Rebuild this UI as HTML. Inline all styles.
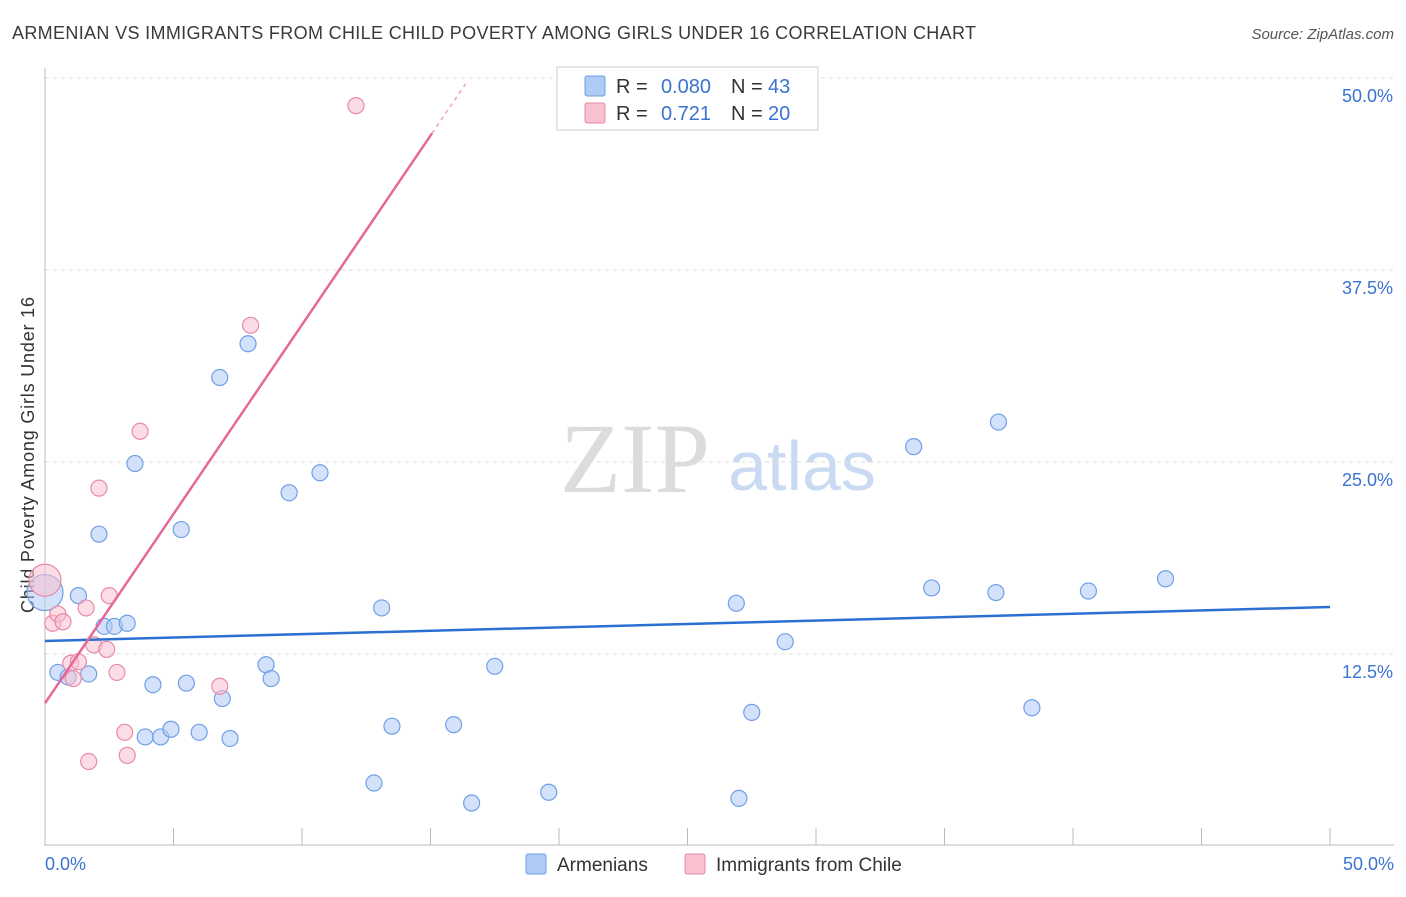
<!DOCTYPE html>
<html><head><meta charset="utf-8"><style>
body{margin:0;background:#fff;font-family:"Liberation Sans",sans-serif;}
svg text{font-family:"Liberation Sans",sans-serif;}
</style></head><body>
<svg id="c" width="1406" height="892">
<text x="12" y="39" font-size="18" fill="#3a3a3a" textLength="964">ARMENIAN VS IMMIGRANTS FROM CHILE CHILD POVERTY AMONG GIRLS UNDER 16 CORRELATION CHART</text>
<text x="1394" y="39" font-size="15" fill="#555" font-style="italic" text-anchor="end">Source: ZipAtlas.com</text>
<text x="635" y="492" font-size="100" fill="#dcdcdc" style="font-family:'Liberation Serif',serif" text-anchor="middle">ZIP</text>
<text x="802" y="490" font-size="70" fill="#c9daf2" text-anchor="middle">atlas</text>
<text transform="translate(34,455) rotate(-90)" font-size="18" fill="#333" text-anchor="middle" textLength="316">Child Poverty Among Girls Under 16</text>
<g id="grid"></g><g id="marks"></g>
<g>
<rect x="557" y="67" width="261" height="63" fill="#fff" stroke="#ccc"/>
<rect x="585" y="76" width="20" height="20" rx="2" fill="#aecbf5" stroke="#6fa0e6"/>
<rect x="585" y="103" width="20" height="20" rx="2" fill="#f9c0d0" stroke="#e98aa8"/>
<text x="616" y="93" font-size="20" fill="#333">R =</text>
<text x="711" y="93" font-size="20" fill="#3a73d0" text-anchor="end">0.080</text>
<text x="731" y="93" font-size="20" fill="#333">N =</text>
<text x="768" y="93" font-size="20" fill="#3a73d0">43</text>
<text x="616" y="120" font-size="20" fill="#333">R =</text>
<text x="711" y="120" font-size="20" fill="#3a73d0" text-anchor="end">0.721</text>
<text x="731" y="120" font-size="20" fill="#333">N =</text>
<text x="768" y="120" font-size="20" fill="#3a73d0">20</text>
</g>
<g>
<rect x="526" y="854" width="20" height="20" rx="2" fill="#aecbf5" stroke="#6fa0e6"/>
<text x="557" y="871" font-size="19" fill="#333">Armenians</text>
<rect x="685" y="854" width="20" height="20" rx="2" fill="#f9c0d0" stroke="#e98aa8"/>
<text x="716" y="871" font-size="19" fill="#333">Immigrants from Chile</text>
</g>
</svg>
<script>
const yTicks=[12.5,25,37.5,50];
const yTickLabels=["12.5%","25.0%","37.5%","50.0%"];
const xTickLabels=["0.0%","50.0%"];
const blueX=[0,0.5,0.9,1.7,1.3,2.1,2.3,2.7,3.2,3.5,3.9,4.2,4.5,4.9,5.3,5.5,6.0,6.8,6.9,7.2,7.9,8.6,8.8,9.5,10.7,12.8,13.1,13.5,15.9,16.6,17.5,19.6,26.9,27.0,27.5,28.8,33.8,34.5,37.0,37.1,38.4,40.6,43.6];
const blueY=[16.5,11.3,11.0,11.2,16.3,20.3,14.3,14.3,14.5,24.9,7.1,10.5,7.1,7.6,20.6,10.6,7.4,30.5,9.6,7.0,32.7,11.8,10.9,23.0,24.3,4.1,15.5,7.8,7.9,2.8,11.7,3.5,15.8,3.1,8.7,13.3,26.0,16.8,16.5,27.6,9.0,16.6,17.4];
const pinkX=[0,0.3,0.5,0.7,1.0,1.1,1.3,1.6,1.7,1.9,2.1,2.4,2.5,2.8,3.1,3.2,3.7,6.8,8.0,12.1];
const pinkY=[17.3,14.5,15.1,14.6,11.9,10.9,12.0,15.5,5.5,13.1,23.3,12.8,16.3,11.3,7.4,5.9,27.0,10.4,33.9,48.2];
const blueTrend=[13.35,15.56];
const pinkTrend=[9.3,46.4,15.06];
const NS="http://www.w3.org/2000/svg";
const X=v=>45+v*25.7, Y=v=>846-v*15.36;
const grid=document.getElementById('grid'), marks=document.getElementById('marks');
function mk(p,tag,a){const e=document.createElementNS(NS,tag);for(const k in a)e.setAttribute(k,a[k]);p.appendChild(e);return e;}
yTicks.forEach((t,i)=>{
 const l=mk(grid,'line',{x1:45,x2:1394,y1:Y(t),y2:Y(t),stroke:'#ddd','stroke-dasharray':'4,4'});
 
 
 const tx=mk(grid,'text',{x:1393,y:Y(t)+24,'font-size':18,fill:'#3a73d0','text-anchor':'end'});tx.textContent=yTickLabels[i];
 
 
});
const ax=mk(grid,'line',{x1:45,x2:45,y1:68,y2:846,stroke:'#bbb'});


const bx=mk(grid,'line',{x1:45,x2:1394,y1:845,y2:845,stroke:'#bbb'});


for(let v=5;v<=50;v+=5){const t=mk(grid,'line',{x1:X(v),x2:X(v),y1:828,y2:845,stroke:'#bbb'});
 
 }
[[0,'start',45],[50,'end',1394]].forEach((d,i)=>{const t=mk(grid,'text',{x:d[2],y:870,'font-size':18,fill:'#3a73d0','text-anchor':d[1]});t.textContent=xTickLabels[i];
 
 });
function dot(x,y,f,s,name,r){const c=mk(marks,'circle',{cx:X(x),cy:Y(y),r:r,fill:f,'fill-opacity':0.55,stroke:s,'stroke-width':1.2});
 
 }
blueX.forEach((x,i)=>dot(x,blueY[i],'#aecbf5','#6fa0e6','armenian-point',i==0?18:8));
pinkX.forEach((x,i)=>dot(x,pinkY[i],'#f9c0d0','#e98aa8','chile-point',i==0?16:8));
const bl=mk(marks,'line',{x1:X(0),y1:Y(blueTrend[0]),x2:X(50),y2:Y(blueTrend[1]),stroke:'#2b6fd3','stroke-width':2.5});


const sl=(pinkTrend[1]-pinkTrend[0])/pinkTrend[2];
const pl=mk(marks,'line',{x1:X(0),y1:Y(pinkTrend[0]),x2:X(pinkTrend[2]),y2:Y(pinkTrend[1]),stroke:'#e8679a','stroke-width':2.5});


const xe=pinkTrend[2]+1.3;
const pd=mk(marks,'line',{x1:X(pinkTrend[2]),y1:Y(pinkTrend[1]),x2:X(xe),y2:Y(pinkTrend[0]+sl*xe),stroke:'#f0a0bf','stroke-width':1.5,'stroke-dasharray':'4,4'});


</script>
</body></html>
